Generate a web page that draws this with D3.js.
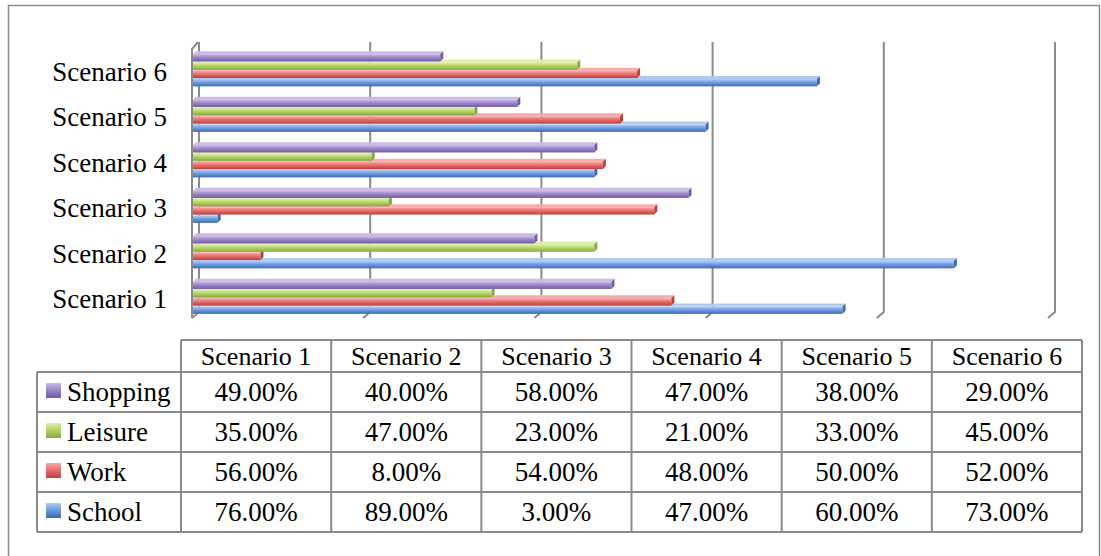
<!DOCTYPE html>
<html>
<head>
<meta charset="utf-8">
<script src="https://cdn.jsdelivr.net/npm/d3@7"></script>
<style>
body{margin:0;background:#fff;}
text{font-family:"Liberation Serif","Times New Roman",serif;fill:#000;}
</style>
</head>
<body>
<svg id="chart"></svg>
<script>
var width=1101, height=556;
var scenarios=["Scenario 1","Scenario 2","Scenario 3","Scenario 4","Scenario 5","Scenario 6"];
var series=["Shopping","Leisure","Work","School"];
var shopping=[49,40,58,47,38,29];
var leisure=[35,47,23,21,33,45];
var work=[56,8,54,48,50,52];
var school=[76,89,3,47,60,73];
var ticks=[0,20,40,60,80,100];
var values={"Shopping":shopping,"Leisure":leisure,"Work":work,"School":school};
// light, mid, dark
var colors={
    "Shopping":["#c9bce4","#9c87c9","#7459a6"],
    "Leisure":["#dcf0a2","#b5d56a","#86a83f"],
    "Work":["#f7aba8","#e8706d","#bd3f3b"],
    "School":["#b0cbf2","#709de2","#3b69b2"]
};

var svg=d3.select("#chart").attr("width",width).attr("height",height);
var defs=svg.append("defs");
series.forEach(function(s,i){
    var g=defs.append("linearGradient").attr("id","g"+i).attr("x1",0).attr("y1",0).attr("x2",0).attr("y2",1);
    g.append("stop").attr("offset","0%").attr("stop-color",colors[s][0]);
    g.append("stop").attr("offset","45%").attr("stop-color",colors[s][1]);
    g.append("stop").attr("offset","100%").attr("stop-color",colors[s][2]);
});

svg.append("rect").attr("x",8.5).attr("y",5.5).attr("width",1091).attr("height",560)
    .attr("fill","none").attr("stroke","#8c8c8c").attr("stroke-width",1.5);

// plot
var dx=7, dy=6;
var x=d3.scaleLinear().domain([0,100]).range([192,1048]);
var y=d3.scaleBand().domain(scenarios.slice().reverse()).range([45,318]).paddingInner(0.27).paddingOuter(0.135);
var ys=d3.scaleBand().domain(series).range([0,y.bandwidth()]);
var wallTop=42, wallBottom=312;

var grid=svg.append("g").attr("fill","none").attr("stroke","#8a8a8a").attr("stroke-width",2);
ticks.forEach(function(t){
    grid.append("path").attr("d","M"+(x(t)+dx)+","+wallTop+"V"+wallBottom+"L"+x(t)+","+(wallBottom+dy));
});
grid.append("path").attr("d","M"+(x(0)+dx-1)+","+wallTop+"L"+x(0)+","+(wallTop+dy+1)+"V"+(wallBottom+dy));

// bars, bottom series first so upper ones overlap
var bd=3;
var bars=svg.append("g");
scenarios.forEach(function(sc,ci){
    series.slice().reverse().forEach(function(s){
        var si=series.indexOf(s);
        var v=values[s][ci];
        var x0=x(0)+1, x1=x(v), y0=y(sc)+ys(s)+bd, h=ys.bandwidth()-1;
        var g=bars.append("g");
        g.append("path").attr("d","M"+x0+","+y0+"L"+(x0+bd)+","+(y0-bd)+"H"+(x1+bd)+"L"+x1+","+y0+"Z")
            .attr("fill",colors[s][0]);
        g.append("rect").attr("x",x0).attr("y",y0).attr("width",x1-x0).attr("height",h)
            .attr("fill","url(#g"+si+")");
        g.append("path").attr("d","M"+x1+","+y0+"L"+(x1+bd)+","+(y0-bd)+"V"+(y0+h-bd)+"L"+x1+","+(y0+h)+"Z")
            .attr("fill",colors[s][2]);
    });
});

// category labels
svg.append("g").selectAll("text").data(scenarios).enter().append("text")
    .attr("x",167).attr("y",function(d){return y(d)+y.bandwidth()/2+13;})
    .attr("text-anchor","end").attr("font-size",27).text(function(d){return d;});

// data table
var colX=d3.scaleBand().domain(scenarios).range([181,1082]);
var rowY=d3.scaleBand().domain(series).range([372,532]);
var tbl=svg.append("g");
var line=function(x1,y1,x2,y2){
    tbl.append("line").attr("x1",x1).attr("y1",y1).attr("x2",x2).attr("y2",y2)
        .attr("stroke","#8a8a8a").attr("stroke-width",2);
};
line(181,340,1082,340);
series.forEach(function(s){line(37,rowY(s),1082,rowY(s));});
line(37,532,1082,532);
line(37,372,37,532);
scenarios.forEach(function(sc){line(colX(sc),340,colX(sc),532);});
line(1082,340,1082,532);

tbl.selectAll(".hd").data(scenarios).enter().append("text")
    .attr("x",function(d){return colX(d)+colX.bandwidth()/2;}).attr("y",365)
    .attr("text-anchor","middle").attr("font-size",26).text(function(d){return d;});

series.forEach(function(s,si){
    var ry=rowY(s);
    tbl.append("rect").attr("x",46).attr("y",ry+11).attr("width",15).attr("height",15)
        .attr("fill","url(#g"+si+")");
    tbl.append("text").attr("x",67).attr("y",ry+29).attr("font-size",27).text(s);
    scenarios.forEach(function(sc,ci){
        tbl.append("text").attr("x",colX(sc)+colX.bandwidth()/2).attr("y",ry+29)
            .attr("text-anchor","middle").attr("font-size",27)
            .text(d3.format(".2f")(values[s][ci])+"%");
    });
});
</script>
</body>
</html>
